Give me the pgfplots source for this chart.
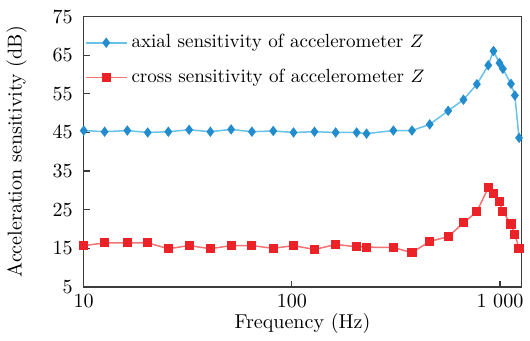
\documentclass[border=0pt]{standalone}
\usepackage{pgfplots}
\pgfplotsset{compat=1.18}
\definecolor{bline}{RGB}{105,195,232}
\definecolor{bmark}{RGB}{35,140,205}
\definecolor{rline}{RGB}{242,115,115}
\definecolor{rmark}{RGB}{235,35,40}
\definecolor{axc}{RGB}{60,60,60}
\begin{document}
\begin{tikzpicture}
\begin{axis}[
  scale only axis,
  width=218pt, height=134.7pt,
  xmode=log,
  xmin=10, xmax=1265,
  ymin=5, ymax=75,
  xtick={10,100,1000},
  xticklabels={10,100,1\ 000},
  ytick={5,15,25,35,45,55,65,75},
  xtick pos=bottom, ytick pos=left,
  tick align=inside,
  minor tick length=0pt,
  major tick length=3pt,
  axis line style={axc, line width=0.6pt},
  tick style={axc, line width=0.6pt},
  yticklabel style={xshift=-2pt},
  xlabel={Frequency (Hz)},
  ylabel={Acceleration sensitivity (dB)},
  xlabel style={yshift=4pt},
  ylabel style={yshift=6pt},
  legend style={draw=none, fill=none, at={(-0.012,0.965)}, anchor=north west,
    font=\fontsize{9.5}{11}\selectfont, row sep=5pt},
  legend cell align=left,
  legend image code/.code={\draw[mark repeat=2,mark phase=2] plot coordinates {(0cm,0cm) (0.36cm,0cm) (0.72cm,0cm)};},
  clip=true,
]
\addplot[color=bline, line width=0.75pt, mark=diamond*, mark size=2pt, mark options={fill=bmark, draw=bmark}]
coordinates {
(10,45.5) (12.6,45.2) (16.2,45.5) (20.3,45.0) (25.5,45.2) (32.1,45.7) (40.6,45.2) (51.1,45.8)
(64.3,45.2) (81.4,45.4) (101.9,45.0) (128.5,45.2) (162.4,45.0) (204.9,45.0) (228.6,44.7)
(307.6,45.5) (378,45.5) (460,47.1) (564,50.6) (668,53.5) (775,57.5) (879,62.4) (931,66.1)
(995,63.0) (1033,61.5) (1130,57.6) (1180,54.6) (1236,43.6)
};
\addlegendentry{axial sensitivity of accelerometer $Z$}
\addplot[color=rline, line width=0.75pt, mark=square*, mark size=1.9pt, mark options={fill=rmark, draw=rmark}]
coordinates {
(10,15.7) (12.6,16.4) (16.2,16.4) (20.3,16.4) (25.5,14.9) (32.1,15.7) (40.6,14.9) (51.1,15.7)
(64.3,15.7) (81.4,15.0) (101.9,15.7) (128.5,14.7) (162.4,16.0) (204.9,15.4) (228.6,15.3)
(307.6,15.2) (378,13.9) (460,16.8) (564,18.0) (668,21.6) (775,24.5) (879,30.7) (931,29.3)
(995,27.1) (1033,24.5) (1130,21.3) (1180,18.6) (1236,15.0)
};
\addlegendentry{cross sensitivity of accelerometer $Z$}
\end{axis}
\path ([yshift=8.3pt]current axis.north);
\end{tikzpicture}
\end{document}
